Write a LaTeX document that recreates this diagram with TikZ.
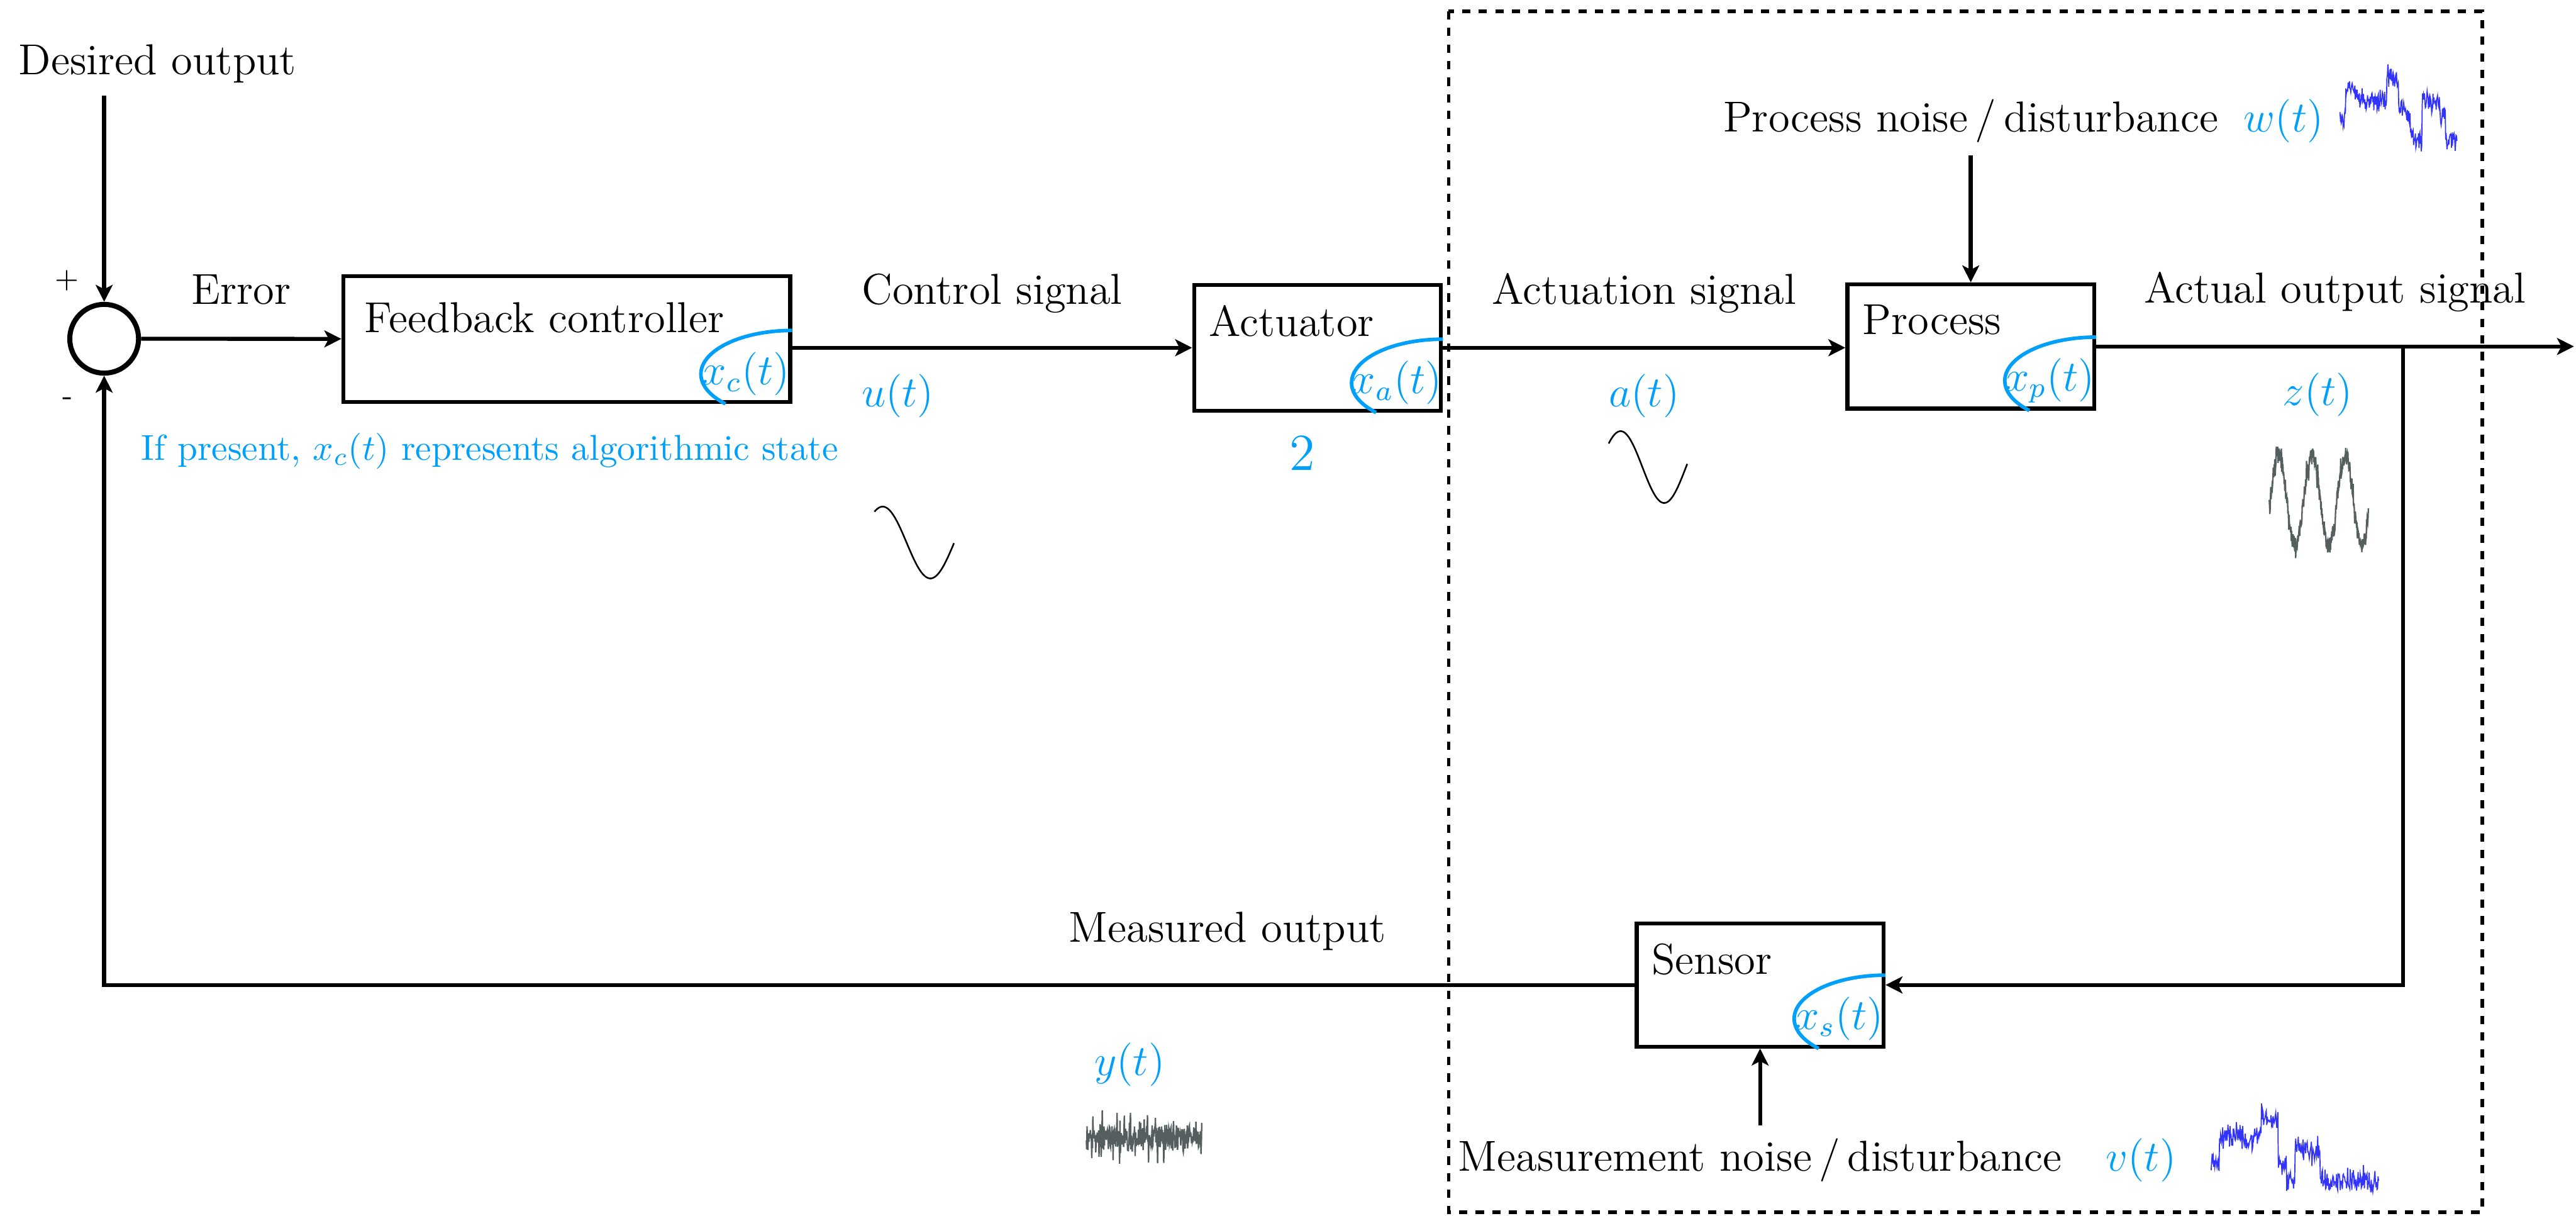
\documentclass[tikz,border=0pt]{standalone}
\usepackage{amsmath}
\usepackage{amssymb}
\usepackage{tikz}
\usetikzlibrary{positioning, arrows.meta, calc}

\definecolor{sigblue}{RGB}{0,160,250}
\definecolor{grain}{RGB}{85,95,95}
\pgfmathsetseed{42}

\begin{document}
\begin{tikzpicture}[
                font = \large,
                >= {Stealth[length = 4.7pt, width = 4.7pt, inset = 1.2pt]},
                block/.style = {draw, line width = 1.1pt, minimum width = 2.405cm, minimum height = 1.225cm, inner sep = 0pt},
                blocktext/.style = {anchor = north west, inner sep = 0pt, xshift = 0.16cm, yshift = -0.21cm},
                statearc/.style = {sigblue, line width = 1pt},
                sig/.style = {text = sigblue},
                wire/.style = {line width = 1.1pt},
                wave/.style = {line width = 0.45pt},
                hiss/.style = {grain, line width = 0.4pt},
                walk/.style = {blue, line width = 0.3pt, opacity = 0.8}
            ]
                \useasboundingbox (0, 0) rectangle (25.1, 11.84);

                \node [draw, circle, line width = 1.4pt, minimum size = 0.67cm, inner sep = 0pt] (sum) at (1.015, 8.54) {};
                \node [font = \footnotesize] (plus) at ($(sum) + (-0.365, 0.565)$) {+};
                \node [font = \footnotesize] (minus) at ($(sum) + (-0.355, -0.61)$) {-};
                \node [anchor = base] (desired) at (1.535, 11.115) {Desired output};

                \node [block, minimum width = 4.355cm] (ctrl) at (5.5225, 8.5375) {};
                \node [block] (act) at (12.8375, 8.4525) {};
                \node [block, minimum height = 1.21cm] (proc) at (19.2025, 8.465) {};
                \node [block, minimum height = 1.2cm] (sens) at (17.15, 2.245) {};

                \node [blocktext, xshift = 0.06cm, yshift = -0.06cm] (ctrltext) at (ctrl.north west) {Feedback controller};
                \node [blocktext] (acttext) at (act.north west) {Actuator};
                \node [blocktext] (proctext) at (proc.north west) {Process};
                \node [blocktext] (senstext) at (sens.north west) {Sensor};

                \foreach \b/\s in {ctrl/c, act/a, proc/p, sens/s} {
                    \draw [statearc] ([yshift = 0.715cm] \b.south east) arc [start angle = 90, end angle = 223, x radius = 0.89cm, y radius = 0.425cm];
                    \node [sig] (\b-state) at ($(\b.south east) + (-0.45, 0.29)$) {$x_\s(t)$};
                }

                \node [sig, font = \normalsize, below = 0.16cm of ctrl, xshift = -0.75cm] (note) {If present, $x_c(t)$ represents algorithmic state};
                \node [sig, font = \Large, below = 0.1cm of act, xshift = -0.15cm] (actgain) {2};

                \node [anchor = base] (pnoise) at (19.2025, 10.555) {Process noise\,/\,disturbance};
                \node [sig, base right = 0pt of pnoise] (wsig) {$w(t)$};
                \node [anchor = base] (mnoise) at (17.15, 0.435) {Measurement noise\,/\,disturbance};
                \node [sig, base right = 0.18cm of mnoise] (vsig) {$v(t)$};

                \coordinate (out) at (25.08, 8.465);
                \coordinate (tap) at (23.415, 8.465);

                \draw [wire, ->] (desired.south -| sum) -- (sum);
                \draw [wire, ->] (sum) -- (ctrl) node [midway, above = 2mm] (err) {Error};
                \draw [wire, ->] (ctrl.east |- act) -- (act) node [midway, above = 2mm] (ctrlsig) {Control signal} node [pos = 0.264, below = 1.2mm] (usig) {\color{sigblue}$u(t)$};
                \draw [wire, ->] (act) -- (act -| proc.west) node [midway, above = 2mm] (actsig) {Actuation signal} node [midway, below = 1.2mm] (asig) {\color{sigblue}$a(t)$};
                \draw [wire, ->] (proc) -- (out) node [midway, above = 2mm] (outsig) {Actual output signal} node [pos = 0.464, below = 1.2mm] (zsig) {\color{sigblue}$z(t)$};
                \draw [wire, ->] (tap) |- (sens);
                \draw [wire, ->] (sens) -| (sum) node [pos = 0.133, above = 2mm] (meas) {Measured output} node [pos = 0.165, below = 4.3mm] (ysig) {\color{sigblue}$y(t)$};
                \draw [wire, ->] (pnoise) -- (proc);
                \draw [wire, ->] (mnoise) -- (sens);

                \draw [line width = 1pt, dash pattern = on 2.3pt off 2.3pt] (14.115, 11.73) rectangle (24.185, 0.03);

                \draw [wave, shift = {(8.368, 6.555)}] plot [domain = 59:359, samples = 60] ({\x / 360 * 0.93}, {0.35 * sin(\x)});
                \draw [wave, shift = {(15.578, 7.29)}] plot [domain = 41:365, samples = 60] ({\x / 360 * 0.85}, {0.35 * sin(\x)});
                \draw [hiss, shift = {(22.12, 6.965)}] plot [domain = -10:1060, samples = 320] ({\x / 360 * 0.325}, {0.45 * sin(\x) + 0.08 * rand + 0.16 * rand * rand * rand});
                \draw [hiss, shift = {(10.585, 0.765)}] plot [domain = 0:1.125, samples = 320] (\x, {0.11 * rand + 0.26 * rand * rand * rand});
                \draw [walk, shift = {(22.8, 10.29)}] plot [domain = 0:1, samples = 260] ({1.14 * \x}, {{0.40,0.70,0.68,0.58,0.55,0.57,0.55,0.56,0.80,0.78,0.50,0.45,0.20,0.17,0.58,0.55,0.52,0.45,0.18,0.17}[int(\x * 19.99)] + 0.09 * rand + 0.1 * rand * rand * rand});
                \draw [walk, shift = {(21.545, 0.08)}] plot [domain = 0:1, samples = 320] ({1.635 * \x}, {{0.45,0.70,0.68,0.72,0.66,0.70,0.88,0.85,0.45,0.25,0.62,0.58,0.55,0.28,0.26,0.25,0.27,0.24,0.26,0.25}[int(\x * 19.99)] + 0.09 * rand + 0.1 * rand * rand * rand});
\end{tikzpicture}
\end{document}
